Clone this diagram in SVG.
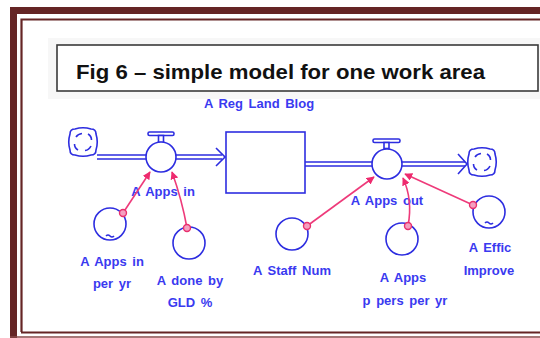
<svg xmlns="http://www.w3.org/2000/svg" width="540" height="338" viewBox="0 0 540 338">
<defs>
<style>
.b{fill:none;stroke:#2d2de0;stroke-width:1.6}
.bf{fill:#fff;stroke:#2d2de0;stroke-width:1.6}
.t{font-family:"Liberation Sans",Arial,sans-serif;font-size:13px;font-weight:bold;fill:#3a3af0;text-anchor:middle;word-spacing:2px}
.c{fill:none;stroke:#ee3a7a;stroke-width:1.6}
.d{fill:#f4a0c0;stroke:#e8306e;stroke-width:1.4}
</style>
<marker id="ah" viewBox="0 0 10 10" refX="9" refY="5" markerWidth="8" markerHeight="8" markerUnits="userSpaceOnUse" orient="auto">
<path d="M0,0 L10,5 L0,10 z" fill="#ee2a6e"/>
</marker>
<g id="cloud">
<path class="b" stroke-width="2" d="M-8,-13 Q0,-15.5 8,-13 Q13,-13 13,-8 Q15.5,0 13,8 Q13,13 8,13 Q0,15.5 -8,13 Q-13,13 -13,8 Q-15.5,0 -13,-8 Q-13,-13 -8,-13 z"/>
<path class="b" d="M-7,-5 Q-5,-8 -1,-8.5 M5,-8 Q8.5,-6 8.5,-2 M8,4 Q6,8 2,8.5 M-5,8 Q-8.5,6 -8.5,2"/>
</g>
</defs>
<rect x="0" y="0" width="540" height="338" fill="#fff"/>
<g id="border">
<path d="M13.5,338 V10.5 H540" fill="none" stroke="#652525" stroke-width="7"/>
<path d="M21.5,332 V19.5 H540" fill="none" stroke="#652525" stroke-width="2.2"/>
<path d="M21,332.5 H540" fill="none" stroke="#652525" stroke-width="2"/>
<path d="M10,337 H540" fill="none" stroke="#8a4a4a" stroke-width="1.5"/>
</g>
<g id="title">
<rect x="48" y="38" width="492" height="61" fill="#f7f7f7"/>
<rect x="57" y="45" width="481" height="46" fill="#fff" stroke="#3a3a3a" stroke-width="1.6"/>
<text x="76" y="79" font-family="'Liberation Sans',Arial,sans-serif" font-weight="bold" font-size="21" fill="#111" textLength="409" lengthAdjust="spacingAndGlyphs">Fig 6 – simple model for one work area</text>
</g>
<g id="flows">
<path class="b" d="M97,155 H146 M97,159 H146 M176,155 H222 M176,159 H222"/>
<path class="b" d="M216,148 L225,157 L216,166"/>
<path class="b" d="M305,162 H372 M305,166 H372 M402,162 H465 M402,166 H465"/>
<path class="b" d="M458,154 L467,164 L458,174"/>
</g>
<g id="source"><use href="#cloud" x="83" y="142"/></g>
<g id="sink"><use href="#cloud" x="482" y="162"/></g>
<g id="stock">
<rect class="bf" x="226" y="132" width="79" height="61"/>
<text class="t" x="259" y="108">A Reg Land Blog</text>
</g>
<g id="valve-in">
<rect class="bf" x="148" y="132" width="26" height="3.5" rx="1.5"/>
<rect class="bf" x="158.5" y="135.5" width="5" height="7"/>
<circle class="bf" cx="161" cy="157" r="15"/>
<text class="t" x="163" y="196">A Apps in</text>
</g>
<g id="valve-out">
<rect class="bf" x="373" y="139" width="27" height="3.5" rx="1.5"/>
<rect class="bf" x="384" y="142.5" width="5" height="6"/>
<circle class="bf" cx="387" cy="164" r="15"/>
<text class="t" x="387" y="205">A Apps out</text>
</g>
<g id="connectors">
<path class="c" d="M123,213 L150,172" marker-end="url(#ah)"/>
<path class="c" d="M187,228 Q182,200 172,172" marker-end="url(#ah)"/>
<path class="c" d="M307,226 L374,177" marker-end="url(#ah)"/>
<path class="c" d="M408,226 Q413,200 403,178" marker-end="url(#ah)"/>
<path class="c" d="M473,205 L405,174" marker-end="url(#ah)"/>
</g>
<g id="aux-apps-in-per-yr">
<circle class="b" cx="110" cy="224" r="16"/>
<path class="b" d="M106,236 q2,-2 4,0 q2,2 4,0" stroke-width="1.2"/>
<circle class="d" cx="123" cy="213" r="3.5"/>
<text class="t" x="112" y="266">A Apps in</text>
<text class="t" x="112" y="288">per yr</text>
</g>
<g id="aux-done-by-gld">
<circle class="b" cx="189" cy="243" r="16"/>
<circle class="d" cx="187" cy="228" r="3.5"/>
<text class="t" x="190" y="285">A done by</text>
<text class="t" x="190" y="307">GLD %</text>
</g>
<g id="aux-staff-num">
<circle class="b" cx="292" cy="234" r="16"/>
<circle class="d" cx="307" cy="226" r="3.5"/>
<text class="t" x="292" y="275">A Staff Num</text>
</g>
<g id="aux-apps-p-pers">
<circle class="b" cx="402" cy="239" r="16"/>
<circle class="d" cx="408" cy="226" r="3.5"/>
<text class="t" x="403" y="282">A Apps</text>
<text class="t" x="405" y="305">p pers per yr</text>
</g>
<g id="aux-effic">
<circle class="b" cx="489" cy="212" r="16"/>
<path class="b" d="M485,223 q2,-2 4,0 q2,2 4,0" stroke-width="1.2"/>
<circle class="d" cx="473" cy="205" r="3.5"/>
<text class="t" x="490" y="252">A Effic</text>
<text class="t" x="489" y="275">Improve</text>
</g>
</svg>
